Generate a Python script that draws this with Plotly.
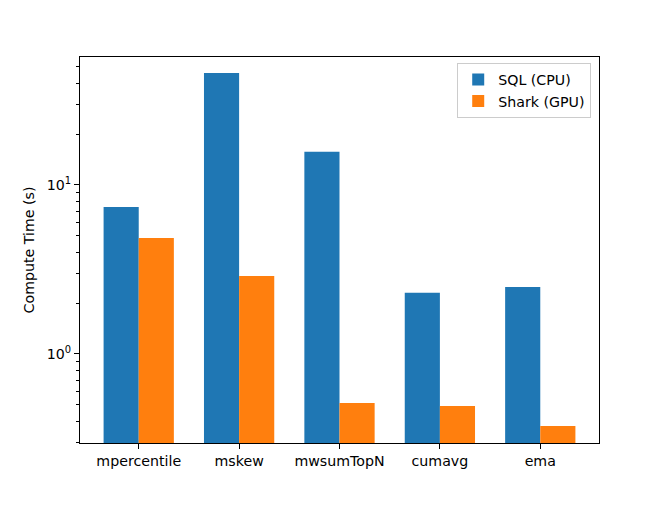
import math
import plotly.graph_objects as go

categories = ["mpercentile", "mskew", "mwsumTopN", "cumavg", "ema"]
sql_cpu = [7.4, 46.0, 15.7, 2.30, 2.49]
shark_gpu = [4.85, 2.89, 0.513, 0.492, 0.375]
ytick_vals = [1, 10]
ytick_text = ["10<sup>0</sup>", "10<sup>1</sup>"]

FS = 14.2
font = dict(family="DejaVu Sans", size=FS, color="black")

fig = go.Figure()
fig.add_trace(go.Bar(name="SQL (CPU)", x=categories, y=sql_cpu,
                     marker=dict(color="#1f77b4", line=dict(width=0))))
fig.add_trace(go.Bar(name="Shark (GPU)", x=categories, y=shark_gpu,
                     marker=dict(color="#ff7f0e", line=dict(width=0))))

fig.update_layout(
    width=651, height=510,
    margin=dict(l=80, r=52, t=57, b=67),
    paper_bgcolor="white", plot_bgcolor="white",
    font=font,
    barmode="group", bargap=0.3, bargroupgap=0,
    showlegend=True,
    legend=dict(x=0.985, y=0.985, xanchor="right", yanchor="top",
                bgcolor="rgba(255,255,255,0.8)", bordercolor="#cccccc", borderwidth=1,
                font=dict(family="DejaVu Sans", size=FS, color="black"), itemwidth=30,
                tracegroupgap=0),
)
fig.update_xaxes(
    type="category", range=[-0.585, 4.585],
    showline=True, mirror=True, linecolor="black", linewidth=1,
    ticks="outside", ticklen=5, tickcolor="black", showgrid=False,
    tickfont=dict(family="DejaVu Sans", size=FS, color="black"),
)
fig.update_yaxes(
    type="log", range=[math.log10(0.297), math.log10(57.2)],
    showline=True, mirror=True, linecolor="black", linewidth=1,
    ticks="outside", ticklen=5, tickcolor="black", showgrid=False,
    tickvals=ytick_vals, ticktext=ytick_text,
    tickfont=dict(family="DejaVu Sans", size=FS, color="black"),
    minor=dict(ticks="outside", ticklen=3, tickcolor="black", showgrid=False,
               tickvals=[0.3, 0.4, 0.5, 0.6, 0.7, 0.8, 0.9, 2, 3, 4, 5, 6, 7, 8, 9, 20, 30, 40, 50]),
    title=dict(text="Compute Time (s)", standoff=8,
               font=dict(family="DejaVu Sans", size=FS, color="black")),
    zeroline=False,
)

fig.write_html("out.html", config={"displayModeBar": False},
               post_script="document.body.style.margin='0';")
